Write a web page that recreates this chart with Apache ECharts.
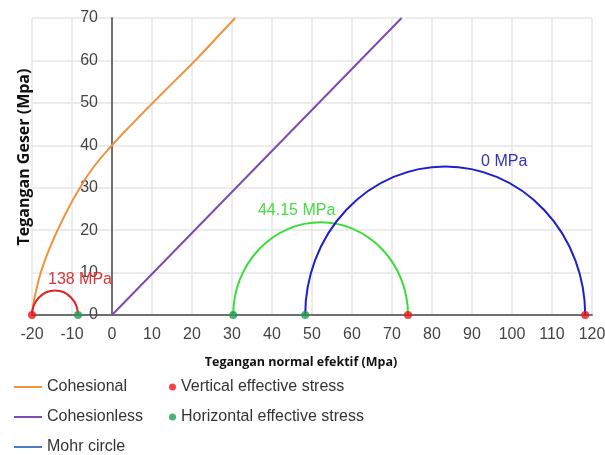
<!DOCTYPE html>
<html>
<head>
<meta charset="utf-8">
<script src="https://cdn.jsdelivr.net/npm/echarts@6/dist/echarts.min.js"></script>
<style>
  html, body { margin: 0; padding: 0; background: #fff; }
  #main { width: 605px; height: 455px; }
</style>
</head>
<body>
<div id="main"></div>
<script>
// kurva selubung kohesif
var cohesional = [[-20, 0], [-19.6, 3], [-18.9, 6], [-17.8, 10], [-15.9, 15], [-13.6, 20],
  [-11, 25], [-8, 30], [-4.5, 35], [0, 40], [5, 45], [10.2, 50], [15.5, 55], [20.8, 60], [25.8, 65], [30.8, 70]];
// kurva tanpa kohesi
var cohesionless = [[0, 0], [72.4, 70]];

// tegangan efektif tiap lingkaran Mohr
var sigmaH = [-8.5, 30.3, 48.3];   // horizontal
var sigmaV = [-20, 74, 118.3];     // vertikal
var circleNames = ['138 MPa', '44.15 MPa', '0 MPa'];

var circleColors = ['#e02424', '#3cdc3c', '#2020c8'];
var labelColors = ['#e03333', '#44dd44', '#3333bb'];
var labelOffsets = [[25, -11], [-24, -12], [59, -5]];

var chart = echarts.init(document.getElementById('main'));

var tickFont = { color: '#444', fontSize: 16, fontFamily: 'Liberation Sans, Arial, sans-serif' };
var legendFont = { color: '#333', fontSize: 16, fontFamily: 'Liberation Sans, Arial, sans-serif' };

var option = {
  animation: false,
  grid: { left: 32, right: 13, top: 18, bottom: 140, containLabel: false, outerBoundsMode: 'none' },
  legend: [
    {
      left: 14, top: 379, height: 80, padding: 0, orient: 'vertical', itemGap: 14,
      itemWidth: 28, itemHeight: 2, icon: 'rect', textStyle: legendFont,
      data: ['Cohesional', 'Cohesionless', 'Mohr circle']
    },
    {
      left: 169, top: 379, height: 80, padding: 0, orient: 'vertical', itemGap: 14,
      itemWidth: 7, itemHeight: 7, icon: 'circle', textStyle: legendFont,
      data: ['Vertical effective stress', 'Horizontal effective stress']
    }
  ],
  xAxis: {
    type: 'value', min: -20, max: 120, interval: 10,
    name: 'Tegangan normal efektif (Mpa)', nameLocation: 'middle', nameGap: 41,
    nameTextStyle: { padding: [0, 22, 0, 0], color: '#111', fontSize: 12.5, fontWeight: 'bold', fontFamily: 'Open Sans, sans-serif' },
    axisLine: { show: true, onZero: false, lineStyle: { color: '#6f6f6f', width: 2 } },
    axisTick: { show: false },
    axisLabel: Object.assign({ margin: 12 }, tickFont),
    splitLine: { show: true, lineStyle: { color: '#e6e6e6', width: 1.5 } }
  },
  yAxis: {
    type: 'value', min: 0, max: 70, interval: 10, offset: -80,
    name: 'Tegangan Geser (Mpa)', nameLocation: 'middle', nameGap: 80,
    nameTextStyle: { padding: [0, 0, 0, 19], color: '#111', fontSize: 16, fontWeight: 'bold', fontFamily: 'Open Sans, sans-serif' },
    axisLine: { show: true, onZero: false, lineStyle: { color: '#6f6f6f', width: 2 } },
    axisTick: { show: false },
    axisLabel: Object.assign({ margin: 14 }, tickFont),
    splitLine: { show: true, lineStyle: { color: '#e6e6e6', width: 1.5 } }
  },
  series: [
    {
      name: 'Cohesional', type: 'line', smooth: true, showSymbol: false,
      color: '#f0923e', lineStyle: { width: 2 }, data: cohesional, z: 3
    },
    {
      name: 'Cohesionless', type: 'line', showSymbol: false,
      color: '#7d4ab5', lineStyle: { width: 2 }, data: cohesionless, z: 3
    },
    {
      name: 'Mohr circle', type: 'line', color: '#4a7ec0', data: []
    },
    {
      name: 'Lingkaran', type: 'custom', z: 4,
      data: sigmaH.map(function (h, i) { return [h, sigmaV[i]]; }),
      renderItem: function (params, api) {
        var i = params.dataIndex;
        var lo = Math.min(api.value(0), api.value(1));
        var hi = Math.max(api.value(0), api.value(1));
        var a = api.coord([lo, 0]);
        var b = api.coord([hi, 0]);
        var rx = (b[0] - a[0]) / 2;
        var ry = Math.abs(api.size([0, (hi - lo) / 2])[1]);
        var cx = (a[0] + b[0]) / 2;
        var top = a[1] - ry;
        return {
          type: 'group',
          children: [
            {
              type: 'path',
              shape: { pathData: 'M' + a[0] + ' ' + a[1] + ' A' + rx + ' ' + ry + ' 0 0 1 ' + b[0] + ' ' + b[1] },
              style: { fill: 'none', stroke: circleColors[i], lineWidth: 2 }
            },
            {
              type: 'text',
              x: cx + labelOffsets[i][0], y: top + labelOffsets[i][1],
              style: {
                text: circleNames[i], fill: labelColors[i], align: 'center', verticalAlign: 'middle',
                font: '16px "Liberation Sans", Arial, sans-serif'
              }
            }
          ]
        };
      }
    },
    {
      name: 'Vertical effective stress', type: 'scatter', symbolSize: 8, z: 5,
      color: '#ee1515', data: sigmaV.map(function (v) { return [v, 0]; })
    },
    {
      name: 'Horizontal effective stress', type: 'scatter', symbolSize: 8, z: 5,
      color: '#1f9e4f', data: sigmaH.map(function (v) { return [v, 0]; })
    }
  ]
};

chart.setOption(option);
</script>
</body>
</html>
